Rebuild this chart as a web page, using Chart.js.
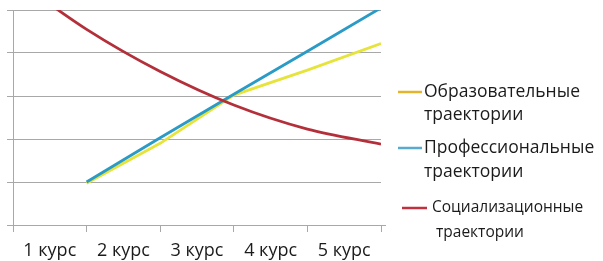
<!DOCTYPE html>
<html><head><meta charset="utf-8">
<script src="https://cdn.jsdelivr.net/npm/chart.js@4.4.1/dist/chart.umd.min.js"></script>
<style>html,body{margin:0;padding:0;background:#fff}#wrap{width:603px;height:261px;position:relative}</style>
</head><body><div id="wrap"><canvas id="c" width="603" height="261"></canvas></div>
<script>
// ---- data ----
const categories = ['1 курс', '2 курс', '3 курс', '4 курс', '5 курс'];
const boundaryPositions = [0, 1, 2, 3, 4, 5];
const seriesNames = ['Образовательные траектории', 'Профессиональные траектории', 'Социализационные траектории'];
const educational = [null, 0.97, 1.9, 3.02, 3.6, 4.22];
const professional = [null, 1.0, 2.03, 3.04, 4.04, 5.05];
const socialization = [5.75, 4.55, 3.57, 2.79, 2.23, 1.88];
const yTicks = [0, 1, 2, 3, 4, 5];

// ---- styles ----
const lineColors = ['#E6E43A', '#2A9AC6', '#B3303B'];
const legendColors = ['#E4B52C', '#5AAAD0', '#C0303E'];
const gridColor = '#A8A8A8';
const fontFamily = "'Open Sans', 'Liberation Sans', Arial, sans-serif";

function toPoints(values) {
  return boundaryPositions.map((x, i) => ({ x: x, y: values[i] })).filter(p => p.y !== null);
}

const legendPlugin = {
  id: 'sideLegend',
  afterDraw(chart) {
    const ctx = chart.ctx;
    const items = [
      { lx: 398, lw: 24, y: 92, tx: 424, tx2: 424, y2: 115, size: 17.5 },
      { lx: 398, lw: 24, y: 148, tx: 424, tx2: 424, y2: 172, size: 17.5 },
      { lx: 402, lw: 25, y: 208, tx: 432, tx2: 436, y2: 233, size: 15.5 }
    ];
    chart.data.datasets.forEach((ds, i) => {
      const it = items[i];
      ctx.save();
      ctx.strokeStyle = legendColors[i];
      ctx.lineWidth = 2.5;
      ctx.beginPath();
      ctx.moveTo(it.lx, it.y);
      ctx.lineTo(it.lx + it.lw, it.y);
      ctx.stroke();
      ctx.fillStyle = '#1b1b1b';
      ctx.font = it.size + 'px ' + fontFamily;
      ctx.textBaseline = 'middle';
      ctx.textAlign = 'left';
      const parts = ds.label.split(' ');
      ctx.fillText(parts[0], it.tx, it.y);
      ctx.fillText(parts.slice(1).join(' '), it.tx2, it.y2);
      ctx.restore();
    });
    // x axis line runs slightly past the last tick, as in the reference
    const a = chart.chartArea;
    ctx.save();
    ctx.strokeStyle = gridColor;
    ctx.lineWidth = 1;
    ctx.beginPath();
    ctx.moveTo(a.right, a.bottom + 0.5);
    ctx.lineTo(a.right + 5, a.bottom + 0.5);
    ctx.stroke();
    ctx.restore();
  }
};

new Chart(document.getElementById('c'), {
  type: 'line',
  data: {
    datasets: [
      { label: seriesNames[0], data: toPoints(educational), borderColor: lineColors[0], borderWidth: 2.8, pointRadius: 0, tension: 0, order: 3 },
      { label: seriesNames[1], data: toPoints(professional), borderColor: lineColors[1], borderWidth: 2.8, pointRadius: 0, tension: 0, order: 2 },
      { label: seriesNames[2], data: toPoints(socialization), borderColor: lineColors[2], borderWidth: 2.8, pointRadius: 0, cubicInterpolationMode: 'monotone', order: 1 }
    ]
  },
  options: {
    responsive: false,
    animation: false,
    devicePixelRatio: 1,
    layout: { padding: { left: 7, right: 222, top: 10, bottom: 0 } },
    plugins: { legend: { display: false }, tooltip: { enabled: false } },
    scales: {
      x: { type: 'linear', min: 0, max: 5, display: false },
      xCat: {
        type: 'category', labels: categories, position: 'bottom', offset: true,
        grid: { offset: true, drawOnChartArea: false, tickLength: 7, color: gridColor },
        border: { color: gridColor },
        ticks: { font: { family: fontFamily, size: 18 }, color: '#1b1b1b', padding: 8, maxRotation: 0, autoSkip: false },
        afterFit(s) { s.height = 36; }
      },
      y: {
        min: 0, max: 5,
        afterBuildTicks(s) { s.ticks = yTicks.map(v => ({ value: v })); },
        ticks: { display: false },
        grid: { color: gridColor, tickLength: 6 },
        border: { color: gridColor },
        afterFit(s) { s.width = 6; }
      }
    }
  },
  plugins: [legendPlugin]
});
</script>
</body></html>
